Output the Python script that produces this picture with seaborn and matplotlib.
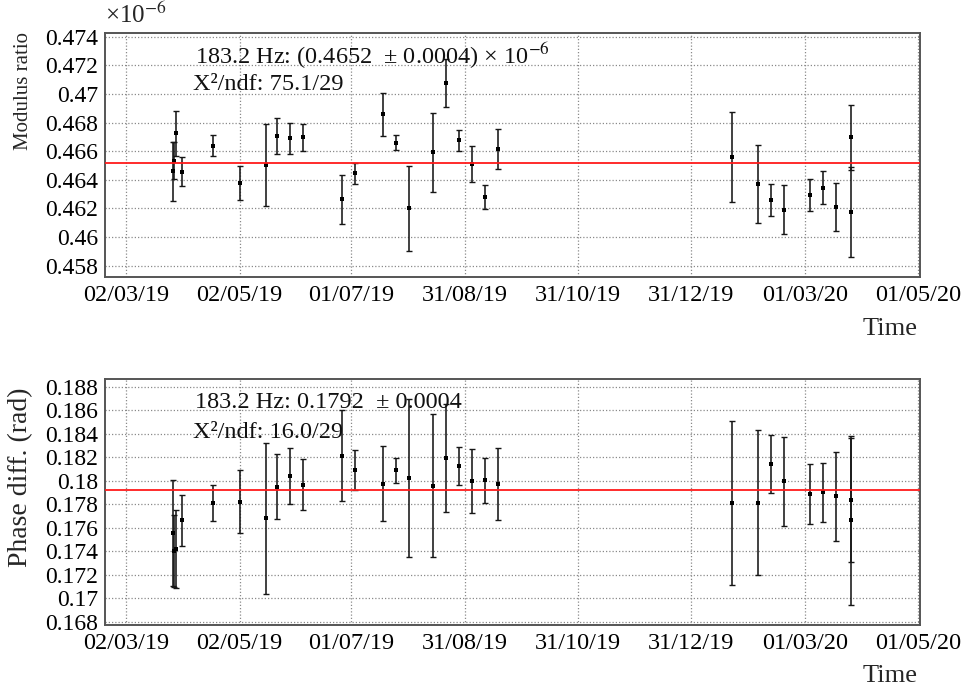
import numpy as np
import pandas as pd
import matplotlib
matplotlib.use("Agg")
import matplotlib.pyplot as plt
import matplotlib.dates as mdates
from matplotlib.ticker import MultipleLocator, FixedLocator
import seaborn as sns

# ---------------- data ----------------
dates = ["2019-03-27", "2019-03-28", "2019-03-29", "2019-04-01", "2019-04-18",
         "2019-05-02", "2019-05-16", "2019-05-22", "2019-05-29", "2019-06-05",
         "2019-06-26", "2019-07-03", "2019-07-18", "2019-07-25", "2019-08-01",
         "2019-08-14", "2019-08-21", "2019-08-28", "2019-09-04", "2019-09-11",
         "2019-09-18", "2020-01-22", "2020-02-05", "2020-02-12", "2020-02-19",
         "2020-03-04", "2020-03-11", "2020-03-18", "2020-03-26", "2020-03-26"]

modulus_ratio = [0.46461, 0.46533, 0.46725, 0.46456, 0.46638,
                 0.46377, 0.46503, 0.46705, 0.46691, 0.46698,
                 0.46263, 0.46447, 0.46857, 0.46659, 0.46200,
                 0.46591, 0.47076, 0.46677, 0.46510, 0.46279,
                 0.46617, 0.46559, 0.46370, 0.46256, 0.46190,
                 0.46293, 0.46346, 0.46209, 0.46697, 0.46176]
modulus_err = [0.00206, 0.00129, 0.00156, 0.00101, 0.00073,
               0.00120, 0.00287, 0.00127, 0.00108, 0.00094,
               0.00171, 0.00073, 0.00148, 0.00052, 0.00297,
               0.00275, 0.00170, 0.00073, 0.00124, 0.00085,
               0.00138, 0.00316, 0.00274, 0.00112, 0.00172,
               0.00113, 0.00114, 0.00168, 0.00228, 0.00315]

phase_diff = [0.17557, 0.17400, 0.17420, 0.17662, 0.17810,
              0.17821, 0.17679, 0.17949, 0.18040, 0.17967,
              0.18214, 0.18089, 0.17975, 0.18089, 0.18021,
              0.17958, 0.18191, 0.18126, 0.17998, 0.18003,
              0.17969, 0.17813, 0.17813, 0.18143, 0.17995,
              0.17884, 0.17901, 0.17867, 0.17833, 0.17662]
phase_err = [0.00452, 0.00307, 0.00330, 0.00220, 0.00155,
             0.00266, 0.00640, 0.00275, 0.00238, 0.00219,
             0.00387, 0.00170, 0.00320, 0.00108, 0.00670,
             0.00610, 0.00460, 0.00164, 0.00273, 0.00193,
             0.00306, 0.00697, 0.00615, 0.00245, 0.00380,
             0.00255, 0.00250, 0.00380, 0.00527, 0.00717]

modulus_fit = 0.4652
phase_fit = 0.1792
modulus_note = ["183.2 Hz: (0.4652  \u00b1 0.0004) \u00d7 10$^{-6}$", "X\u00b2/ndf: 75.1/29"]
phase_note = ["183.2 Hz: 0.1792  \u00b1 0.0004", "X\u00b2/ndf: 16.0/29"]

x_tick_dates = ["2019-03-02", "2019-05-02", "2019-07-01", "2019-08-31",
                "2019-10-31", "2019-12-31", "2020-03-01", "2020-05-01"]
x_tick_labels = ["02/03/19", "02/05/19", "01/07/19", "31/08/19",
                 "31/10/19", "31/12/19", "01/03/20", "01/05/20"]
x_range = ["2019-02-18 16:00", "2020-05-01 22:00"]

modulus_yticks = [0.458, 0.46, 0.462, 0.464, 0.466, 0.468, 0.47, 0.472, 0.474]
phase_yticks = [0.168, 0.17, 0.172, 0.174, 0.176, 0.178, 0.18, 0.182, 0.184, 0.186, 0.188]

# ---------------- style ----------------
sns.set_theme(style="white")
plt.rcParams["font.family"] = ["Liberation Serif", "DejaVu Serif"]
plt.rcParams["mathtext.fontset"] = "stix"

df = pd.DataFrame({
    "date": pd.to_datetime(dates),
    "modulus": modulus_ratio,
    "modulus_err": modulus_err,
    "phase": phase_diff,
    "phase_err": phase_err,
})

W, H = 964, 695
fig = plt.figure(figsize=(W / 100, H / 100), dpi=100)
ax1 = fig.add_axes([105 / W, 1 - 277 / H, 815 / W, 244 / H])
ax2 = fig.add_axes([105 / W, 1 - 625 / H, 815 / W, 246 / H])

tick_nums = mdates.date2num(pd.to_datetime(x_tick_dates))
minor_nums = np.concatenate([np.linspace(a, b, 5)[1:-1] for a, b in zip(tick_nums[:-1], tick_nums[1:])])


def panel(ax, col, ecol, fit, yticks, ylim, minor_step, ylabel, ylabel_size,
          ylabel_y, notes, note_pos, xlabel_y):
    ax.errorbar(df["date"], df[col], yerr=df[ecol], fmt="none", ecolor="#161616",
                elinewidth=1.15, capsize=2.4, capthick=1.0, zorder=3)
    sns.scatterplot(data=df, x="date", y=col, ax=ax, marker="s", s=8,
                    color="black", edgecolor="black", linewidth=0, zorder=4,
                    legend=False)
    ax.axhline(fit, color="#ff1a1a", lw=1.3, zorder=5)

    ax.set_xlim(mdates.date2num(pd.to_datetime(x_range)))
    ax.set_ylim(*ylim)
    ax.xaxis.set_major_locator(FixedLocator(tick_nums))
    ax.set_xticklabels(x_tick_labels)
    ax.xaxis.set_minor_locator(FixedLocator(minor_nums))
    ax.set_yticks(yticks)
    ax.set_yticklabels([f"{v:g}" for v in yticks])
    ax.yaxis.set_minor_locator(MultipleLocator(minor_step))

    ax.tick_params(axis="both", which="both", direction="in", top=False,
                   right=False, colors="#333333", labelcolor="black")
    ax.tick_params(axis="both", which="major", length=7.5, width=1.0)
    ax.tick_params(axis="both", which="minor", length=4.5, width=1.0)
    ax.tick_params(axis="x", labelsize=17.5, pad=6)
    ax.tick_params(axis="y", labelsize=17, pad=5)

    ax.grid(True, which="major", linestyle=(0, (1, 1.6)), color="#8a8a8a", lw=0.9)
    ax.set_axisbelow(True)
    for s in ax.spines.values():
        s.set_color("#555555")
        s.set_linewidth(1.4)

    ax.set_ylabel(ylabel, fontsize=ylabel_size, loc="top")
    ax.yaxis.set_label_coords(-72 / 815, ylabel_y)
    ax.set_xlabel("Time", fontsize=19, loc="right")
    ax.xaxis.set_label_coords(1 - 2 / 815, xlabel_y)

    for (tx, ty), t in zip(note_pos, notes):
        ax.text(tx, ty, t, transform=ax.transAxes, fontsize=17.5, va="center",
                ha="left", color="#111111", zorder=6)


panel(ax1, "modulus", "modulus_err", modulus_fit, modulus_yticks,
      (0.45721, 0.47426), 0.0005, "Modulus ratio", 15, 1.004,
      modulus_note, [(0.1104, (277 - 56) / 244), (0.108, (277 - 84) / 244)], -41 / 244)
ax1.text(0.0, 1.02, "\u00d710$^{-6}$", transform=ax1.transAxes, fontsize=18,
         ha="left", va="bottom")

panel(ax2, "phase", "phase_err", phase_fit, phase_yticks,
      (0.16772, 0.18865), 0.0004, "Phase diff. (rad)", 20, 0.967,
      phase_note, [(0.1104, (625 - 403) / 246), (0.108, (625 - 432) / 246)], -40 / 246)

fig.savefig("out.png", dpi=100)
